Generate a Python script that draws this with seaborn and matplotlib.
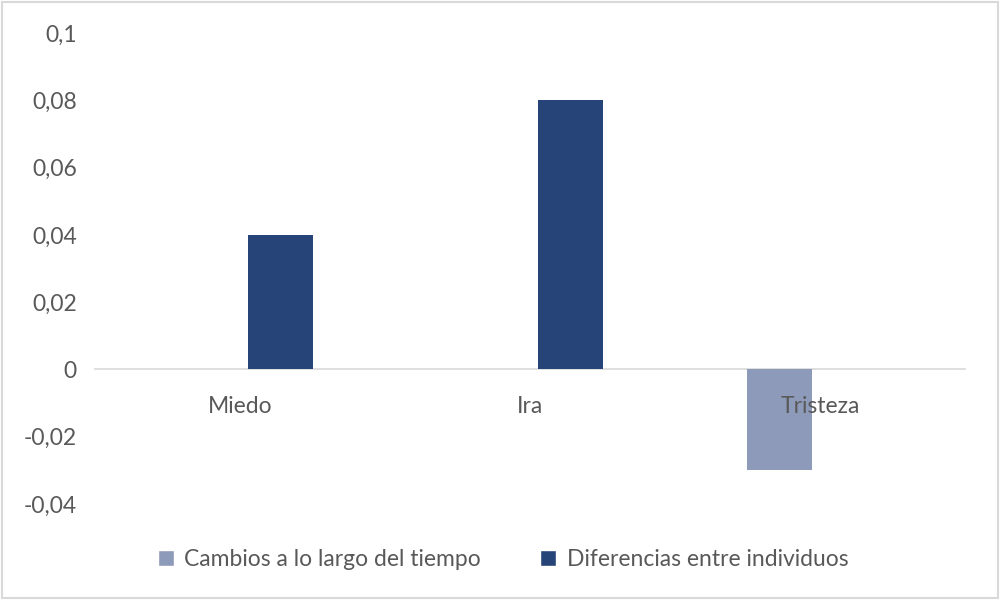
import pandas as pd
import numpy as np
import matplotlib.pyplot as plt
import seaborn as sns
from matplotlib.patches import Patch
from matplotlib.ticker import FuncFormatter

# ============================================================
# DATA
# ============================================================
categories = ['Miedo', 'Ira', 'Tristeza']
series_names = ['Cambios a lo largo del tiempo', 'Diferencias entre individuos']
cambios = [0.0, 0.0, -0.03]
diferencias = [0.04, 0.08, 0.0]
y_ticks = [-0.04, -0.02, 0, 0.02, 0.04, 0.06, 0.08, 0.1]

colors = ['#8E9AB9', '#264478']
text_color = '#595959'

df = pd.DataFrame({
    'Emocion': categories * 2,
    'Serie': [series_names[0]] * 3 + [series_names[1]] * 3,
    'Valor': cambios + diferencias,
})

# ============================================================
# PLOT
# ============================================================
sns.set_style('white')
plt.rcParams['font.family'] = ['Lato', 'DejaVu Sans']

fig = plt.figure(figsize=(10, 6), dpi=100)
ax = fig.add_axes([0.095, 0.16, 0.87, 0.785])

sns.barplot(data=df, x='Emocion', y='Valor', hue='Serie',
            palette=colors, width=0.56, gap=0.2, ax=ax,
            legend=False, saturation=1, linewidth=0, zorder=2)

ax.set_ylim(-0.04, 0.1)
ax.set_yticks(y_ticks)
ax.yaxis.set_major_formatter(FuncFormatter(
    lambda v, p: ('%g' % round(v, 3)).replace('.', ',')))
ax.set_xlabel('')
ax.set_ylabel('')

for s in ['top', 'right', 'left']:
    ax.spines[s].set_visible(False)
ax.spines['bottom'].set_position(('data', 0))
ax.spines['bottom'].set_color('#D9D9D9')
ax.spines['bottom'].set_linewidth(1.2)
ax.spines['bottom'].set_zorder(1)

ax.tick_params(axis='y', length=0, pad=13, labelsize=16.5, labelcolor=text_color)
ax.tick_params(axis='x', length=0, pad=19, labelsize=16.5, labelcolor=text_color)
# category labels drawn over the bars, like the original
ax.xaxis.set_zorder(5)

handles = [Patch(facecolor=c, label=n) for c, n in zip(colors, series_names)]
leg = fig.legend(handles=handles, loc='center', bbox_to_anchor=(0.503, 0.068),
                 ncol=2, frameon=False, fontsize=16.5, handlelength=0.7,
                 handleheight=0.7, handletextpad=0.45, columnspacing=2.6)
for t in leg.get_texts():
    t.set_color(text_color)

# light border around the whole chart
fig.patches.append(plt.Rectangle((0.002, 0.003), 0.996, 0.994,
                                 transform=fig.transFigure, fill=False,
                                 edgecolor='#D9D9D9', linewidth=1.5))

fig.savefig('out.png', dpi=100)
